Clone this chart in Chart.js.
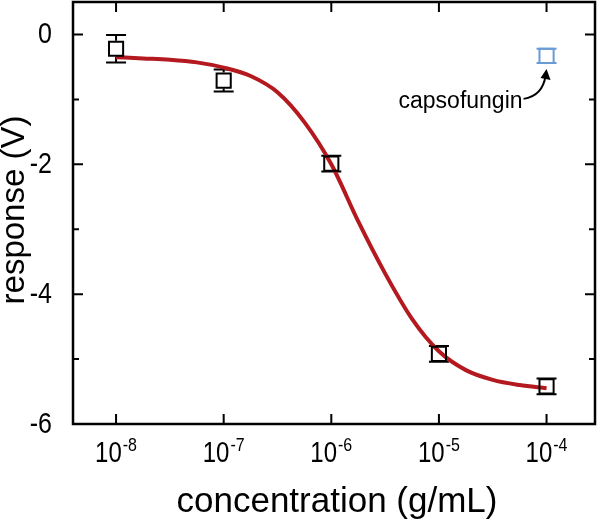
<!DOCTYPE html>
<html>
<head>
<meta charset="utf-8">
<script src="https://cdn.jsdelivr.net/npm/chart.js@4.4.1/dist/chart.umd.min.js"></script>
<style>
  html, body { margin: 0; padding: 0; background: #fff; }
  #chart { display: block; }
</style>
</head>
<body>
<canvas id="chart" width="600" height="521"></canvas>
<script>
// measured points (g/mL, V)
var concentration = [1e-8, 1e-7, 1e-6, 1e-5, 1e-4];
var response = [-0.22, -0.71, -1.99, -4.92, -5.42];
var responseErr = [0.21, 0.17, 0.12, 0.12, 0.12];

// capsofungin control
var capsoConc = [1e-4];
var capsoResp = [-0.33];
var capsoErr = [0.11];

// fitted curve at quarter decades
var fitConc = [1e-8, 1.78e-8, 3.16e-8, 5.62e-8, 1e-7, 1.78e-7, 3.16e-7, 5.62e-7,
               1e-6, 1.78e-6, 3.16e-6, 5.62e-6, 1e-5, 1.78e-5, 3.16e-5, 5.62e-5, 1e-4];
var fitResp = [-0.35, -0.37, -0.39, -0.43, -0.51, -0.64, -0.89, -1.35,
               -2.0, -2.88, -3.68, -4.38, -4.88, -5.17, -5.32, -5.40, -5.45];

// axes
var xTickVals = [1e-8, 1e-7, 1e-6, 1e-5, 1e-4];
var xTickExp = ['-8', '-7', '-6', '-5', '-4'];
var yTickVals = [-6, -4, -2, 0];
var yTickText = ['-6', '-4', '-2', '0'];
var yMinorVals = [-5, -3, -1];
var xMin = 3.98e-9, xMax = 2.82e-4;
var yMin = -6, yMax = 0.5;

var FONT = '"Liberation Sans", Arial, Helvetica, sans-serif';
var RED = '#b3191e';
var BLUE = '#6a9bd6';

function pts(xs, ys) {
  return xs.map(function (x, i) { return { x: x, y: ys[i] }; });
}

// tick labels in the figure are a bit taller than plain Arial
function tallText(ctx, txt, x, y, size, align, base) {
  ctx.save();
  ctx.font = size + 'px ' + FONT;
  ctx.textAlign = align;
  ctx.textBaseline = base;
  ctx.translate(x, y);
  ctx.scale(1, 1.2);
  ctx.fillText(txt, 0, 0);
  ctx.restore();
}

var errorBars = {
  id: 'errorBars',
  beforeDatasetsDraw: function (chart) {
    var ctx = chart.ctx, sx = chart.scales.x, sy = chart.scales.y;
    var sets = [
      { x: concentration, y: response, e: responseErr, c: '#000' },
      { x: capsoConc, y: capsoResp, e: capsoErr, c: BLUE }
    ];
    ctx.save();
    ctx.lineWidth = 2;
    sets.forEach(function (s) {
      ctx.strokeStyle = s.c;
      s.x.forEach(function (xv, i) {
        var px = sx.getPixelForValue(xv);
        var py = sy.getPixelForValue(s.y[i]);
        var top = sy.getPixelForValue(s.y[i] + s.e[i]);
        var bot = sy.getPixelForValue(s.y[i] - s.e[i]);
        ctx.beginPath();
        if (top < py - 8) { ctx.moveTo(px, top); ctx.lineTo(px, py - 8); }
        if (bot > py + 8) { ctx.moveTo(px, py + 8); ctx.lineTo(px, bot); }
        ctx.moveTo(px - 10, top); ctx.lineTo(px + 10, top);
        ctx.moveTo(px - 10, bot); ctx.lineTo(px + 10, bot);
        ctx.stroke();
      });
    });
    ctx.restore();
  }
};

var frame = {
  id: 'frame',
  afterDraw: function (chart) {
    var ctx = chart.ctx, a = chart.chartArea;
    var sx = chart.scales.x, sy = chart.scales.y;
    ctx.save();
    // box
    ctx.strokeStyle = '#000';
    ctx.lineWidth = 2.5;
    ctx.strokeRect(a.left, a.top, a.right - a.left, a.bottom - a.top);
    // inward ticks
    ctx.lineWidth = 2;
    ctx.beginPath();
    xTickVals.forEach(function (v) {
      var px = sx.getPixelForValue(v);
      ctx.moveTo(px, a.bottom); ctx.lineTo(px, a.bottom - 10);
      ctx.moveTo(px, a.top); ctx.lineTo(px, a.top + 10);
    });
    yTickVals.forEach(function (v) {
      var py = sy.getPixelForValue(v);
      ctx.moveTo(a.left, py); ctx.lineTo(a.left + 10, py);
      ctx.moveTo(a.right, py); ctx.lineTo(a.right - 10, py);
    });
    yMinorVals.forEach(function (v) {
      var py = sy.getPixelForValue(v);
      ctx.moveTo(a.left, py); ctx.lineTo(a.left + 6, py);
      ctx.moveTo(a.right, py); ctx.lineTo(a.right - 6, py);
    });
    ctx.stroke();

    ctx.fillStyle = '#000';
    // y tick labels
    yTickVals.forEach(function (v, i) {
      tallText(ctx, yTickText[i], 52, sy.getPixelForValue(v) + 9, 25, 'right', 'alphabetic');
    });
    // x tick labels 10^n
    xTickVals.forEach(function (v, i) {
      var px = sx.getPixelForValue(v);
      ctx.font = '24px ' + FONT;
      var w1 = ctx.measureText('10').width;
      ctx.font = '16px ' + FONT;
      var w2 = ctx.measureText(xTickExp[i]).width;
      var x0 = px - (w1 + 1 + w2) / 2;
      tallText(ctx, '10', x0, 462, 24, 'left', 'alphabetic');
      tallText(ctx, xTickExp[i], x0 + w1 + 1, 451, 16, 'left', 'alphabetic');
    });

    // axis titles
    ctx.font = '35px ' + FONT;
    ctx.textAlign = 'center';
    ctx.textBaseline = 'alphabetic';
    ctx.fillText('concentration (g/mL)', 337, 512);
    ctx.save();
    ctx.translate(24, 210);
    ctx.rotate(-Math.PI / 2);
    ctx.font = '33px ' + FONT;
    ctx.fillText('response (V)', 0, 0);
    ctx.restore();

    // capsofungin note with arrow
    var cx = sx.getPixelForValue(capsoConc[0]);
    var cy = sy.getPixelForValue(capsoResp[0]);
    ctx.font = '23px ' + FONT;
    ctx.textAlign = 'right';
    ctx.fillText('capsofungin', cx - 24, cy + 52);
    ctx.beginPath();
    ctx.lineWidth = 2;
    ctx.moveTo(cx - 23, cy + 43);
    ctx.quadraticCurveTo(cx - 4, cy + 40, cx - 1, cy + 20);
    ctx.stroke();
    ctx.beginPath();
    ctx.moveTo(cx, cy + 13);
    ctx.lineTo(cx + 4, cy + 24);
    ctx.lineTo(cx - 6, cy + 22);
    ctx.closePath();
    ctx.fill();
    ctx.restore();
  }
};

new Chart(document.getElementById('chart'), {
  type: 'scatter',
  data: {
    datasets: [
      {
        data: pts(fitConc, fitResp),
        showLine: true,
        borderColor: RED,
        borderWidth: 4,
        pointRadius: 0,
        cubicInterpolationMode: 'monotone',
        order: 1
      },
      {
        data: pts(concentration, response),
        pointStyle: 'rect',
        pointRadius: 10,
        pointBorderWidth: 2,
        pointBorderColor: '#000',
        pointBackgroundColor: 'rgba(0,0,0,0)',
        order: 0
      },
      {
        data: pts(capsoConc, capsoResp),
        pointStyle: 'rect',
        pointRadius: 10,
        pointBorderWidth: 2,
        pointBorderColor: BLUE,
        pointBackgroundColor: 'rgba(0,0,0,0)',
        order: 0
      }
    ]
  },
  options: {
    responsive: false,
    animation: false,
    devicePixelRatio: 1,
    layout: { autoPadding: false, padding: { left: 0, right: 5, top: 2, bottom: 0 } },
    plugins: { legend: { display: false }, tooltip: { enabled: false } },
    scales: {
      x: {
        type: 'logarithmic',
        min: xMin,
        max: xMax,
        grid: { display: false, drawTicks: false },
        border: { display: false },
        ticks: { display: false },
        afterBuildTicks: function (s) { s.ticks = xTickVals.map(function (v) { return { value: v }; }); },
        afterFit: function (s) { s.height = 97; }
      },
      y: {
        min: yMin,
        max: yMax,
        grid: { display: false, drawTicks: false },
        border: { display: false },
        ticks: { display: false },
        afterBuildTicks: function (s) { s.ticks = yTickVals.map(function (v) { return { value: v }; }); },
        afterFit: function (s) { s.width = 73; }
      }
    }
  },
  plugins: [errorBars, frame]
});
</script>
</body>
</html>
